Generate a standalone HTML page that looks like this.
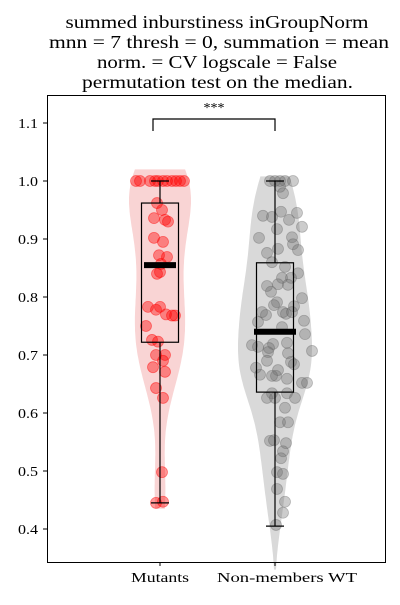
<!DOCTYPE html>
<html><head><meta charset="utf-8">
<style>
html,body{margin:0;padding:0;background:#fff;}
svg text{font-family:"Liberation Serif","DejaVu Serif",serif;fill:#000;}
</style></head>
<body>
<svg id="chart" width="400" height="600" viewBox="0 0 400 600" xmlns="http://www.w3.org/2000/svg">
<rect width="400" height="600" fill="#fff"/>
<g font-size="18" text-anchor="middle">
<text x="217" y="28" textLength="303" lengthAdjust="spacingAndGlyphs">summed inburstiness inGroupNorm</text>
<text x="219" y="48" textLength="340" lengthAdjust="spacingAndGlyphs">mnn = 7 thresh = 0, summation = mean</text>
<text x="217" y="68" textLength="240" lengthAdjust="spacingAndGlyphs">norm. = CV logscale = False</text>
<text x="217.5" y="88" textLength="271" lengthAdjust="spacingAndGlyphs">permutation test on the median.</text>
</g>
<g id="plot"></g>
<rect x="47.5" y="95.5" width="338" height="467" fill="none" stroke="#000" stroke-width="1"/>
</svg>
<script>
const categories = ["Mutants", "Non-members WT"];
const mutantValues = [1,1,1,1,1,1,1,1,1,1,1,0.962,0.95,0.933,0.936,0.93,0.902,0.895,0.872,0.869,0.843,0.84,0.857,0.783,0.778,0.783,0.77,0.768,0.768,0.75,0.726,0.723,0.70,0.70,0.69,0.679,0.671,0.643,0.626,0.498,0.445,0.447];
const mutantJitter = [-24,-20,-10,-5,-2,3,7,12,16,20,24,-3,2,5,-6,8,-6,3,-1,7,0,-3,1,-12,-4,0,6,12,15,-14,-8,-2,-4,5,3,-7,5,-4,3,2,-4,3];
const wtValues = [1,1,1,1,1,0.99,0.979,0.94,0.938,0.947,0.933,0.945,0.921,0.917,0.902,0.903,0.891,0.883,0.881,0.876,0.86,0.852,0.841,0.833,0.833,0.822,0.821,0.819,0.809,0.798,0.791,0.786,0.784,0.774,0.769,0.774,0.771,0.774,0.757,0.759,0.748,0.736,0.717,0.714,0.719,0.712,0.721,0.703,0.707,0.705,0.69,0.688,0.684,0.678,0.666,0.674,0.664,0.659,0.652,0.664,0.652,0.634,0.626,0.626,0.634,0.626,0.609,0.584,0.584,0.552,0.553,0.548,0.534,0.522,0.498,0.495,0.469,0.447,0.428,0.407];
const wtJitter = [-5,0,5,10,18,5,8,-12,-3,6,14,22,27,2,-16,17,18,3,23,-8,-3,10,23,7,16,3,13,-8,-4,27,2,-1,19,-13,-9,8,11,17,-17,29,7,30,-23,-17,-2,-6,12,13,37,-7,-8,16,19,-19,-15,3,1,12,27,-3,32,-3,-8,0,12,20,10,5,13,-5,-1,11,8,6,2,8,2,10,8,1];
const boxStats = [{q1:0.722,q3:0.962,med:0.855,lo:0.445,hi:1.0},{q1:0.636,q3:0.859,med:0.740,lo:0.405,hi:1.0}];
const violinRange = [[0.435,1.02],[0.33,1.008]];
const yTicks = [0.4,0.5,0.6,0.7,0.8,0.9,1.0,1.1];
const yTickLabels = ["0.4","0.5","0.6","0.7","0.8","0.9","1.0","1.1"];
const sigLabel = "***";

const NS="http://www.w3.org/2000/svg";
const plot=document.getElementById('plot');
const yScale=v=>181+(1.0-v)*580;
const xScale=i=>160+i*115;
const maxHalf=[31,37];
const medHalf=[16,21];
const vColor=["#f9d4d4","#d9d9d9"];
const pColor=["rgba(255,0,0,0.4)","rgba(110,110,110,0.35)"];
const pStroke=["rgba(255,0,0,0.45)","rgba(90,90,90,0.35)"];
function mk(t,a){const e=document.createElementNS(NS,t);for(const k in a)e.setAttribute(k,a[k]);return e;}

const seriesVals=[mutantValues,wtValues], seriesJit=[mutantJitter,wtJitter];
seriesVals.forEach((vals,i)=>{
  const n=vals.length, mean=vals.reduce((a,b)=>a+b,0)/n;
  const sd=Math.sqrt(vals.reduce((a,b)=>a+(b-mean)*(b-mean),0)/(n-1));
  const bw=sd*Math.pow(n,-0.2)*0.85;
  const [lo,hi]=violinRange[i]; const pts=[]; let mx=0;
  for(let k=0;k<=120;k++){const y=lo+(hi-lo)*k/120;let d=0;vals.forEach(v=>{d+=Math.exp(-0.5*((y-v)/bw)**2);});pts.push([y,d]);if(d>mx)mx=d;}
  const cx=xScale(i);
  let path=pts.map((p,k)=>(k?'L':'M')+(cx-p[1]/mx*maxHalf[i]).toFixed(1)+','+yScale(p[0]).toFixed(1)).join('');
  path+=pts.slice().reverse().map(p=>'L'+(cx+p[1]/mx*maxHalf[i]).toFixed(1)+','+yScale(p[0]).toFixed(1)).join('')+'Z';
  const vio=mk('path',{d:path,fill:vColor[i]});
  
  
  plot.appendChild(vio);
});
seriesVals.forEach((vals,i)=>{
  const g=mk('g',{});
  
  
  vals.forEach((v,k)=>{
    const c=mk('circle',{cx:xScale(i)+seriesJit[i][k],cy:yScale(v),r:5.5,fill:pColor[i],stroke:pStroke[i],'stroke-width':0.8});
    
    
    g.appendChild(c);
  });
  plot.appendChild(g);
});
boxStats.forEach((b,i)=>{
  const cx=xScale(i);const g=mk('g',{stroke:'#000',fill:'none','stroke-width':1.2});
  
  
  g.appendChild(mk('line',{x1:cx,x2:cx,y1:yScale(b.hi),y2:yScale(b.q3)}));
  g.appendChild(mk('line',{x1:cx,x2:cx,y1:yScale(b.q1),y2:yScale(b.lo)}));
  g.appendChild(mk('line',{x1:cx-9,x2:cx+9,y1:yScale(b.hi),y2:yScale(b.hi)}));
  g.appendChild(mk('line',{x1:cx-9,x2:cx+9,y1:yScale(b.lo),y2:yScale(b.lo)}));
  g.appendChild(mk('rect',{x:cx-18.5,y:yScale(b.q3),width:37,height:yScale(b.q1)-yScale(b.q3)}));
  g.appendChild(mk('line',{x1:cx-medHalf[i],x2:cx+medHalf[i],y1:yScale(b.med),y2:yScale(b.med),'stroke-width':6}));
  plot.appendChild(g);
});
yTicks.forEach((t,k)=>{
  const y=yScale(t);
  const tk=mk('line',{x1:43,x2:47,y1:y,y2:y,stroke:'#000'});
  
  
  plot.appendChild(tk);
  const tx=mk('text',{x:38,y:y+5,'font-size':14,'text-anchor':'end',textLength:20,lengthAdjust:'spacingAndGlyphs'});
  tx.textContent=yTickLabels[k];
  
  
  plot.appendChild(tx);
});
const xLabelLen=[58,140];
categories.forEach((c,i)=>{
  const x=xScale(i);
  const tk=mk('line',{x1:x,x2:x,y1:562,y2:566,stroke:'#000'});
  
  
  plot.appendChild(tk);
  const tx=mk('text',{x:x+(i?12:0),y:582,'font-size':14,'text-anchor':'middle',textLength:xLabelLen[i],lengthAdjust:'spacingAndGlyphs'});
  tx.textContent=c;
  
  
  plot.appendChild(tx);
});
const br=mk('path',{d:`M${xScale(0)-7},131 V119 H${xScale(1)} V131`,fill:'none',stroke:'#000','stroke-width':1.2});


plot.appendChild(br);
const st=mk('text',{x:(xScale(0)-7+xScale(1))/2,y:112,'font-size':14,'text-anchor':'middle'});
st.textContent=sigLabel;


plot.appendChild(st);
</script>
</body></html>
